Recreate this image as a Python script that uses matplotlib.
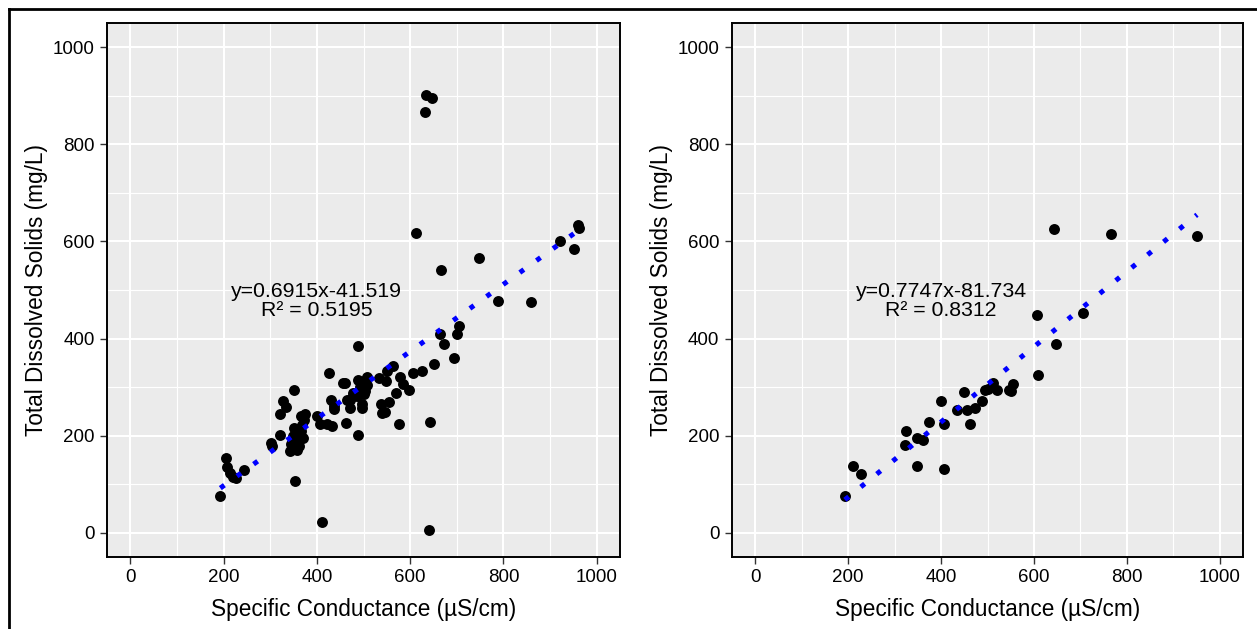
import numpy as np
import matplotlib
matplotlib.use("Agg")
import matplotlib.pyplot as plt
from matplotlib.lines import Line2D

plt.rcParams["font.family"] = ["Liberation Sans", "DejaVu Sans"]

# left panel: all samples
left_sc = [193, 206, 208, 214, 221, 226, 244, 302, 303, 320, 320, 328, 333, 352, 350,
           343, 354, 410, 401, 407, 421, 432, 427, 460, 462, 488, 430, 437, 437, 471,
           470, 478, 496, 489, 493, 500, 501, 496, 507, 534, 548, 551, 564, 555, 537,
           546, 570, 578, 584, 598, 577, 607, 626, 651, 664, 673, 694, 701, 704, 642,
           641, 612, 632, 634, 647, 666, 748, 789, 860, 921, 951, 961, 963,
           347, 352, 356, 360, 365, 368, 372, 375, 362, 348, 370, 345, 358, 366,
           489, 507, 485, 503, 478, 464, 457, 539]
left_tds = [75, 154, 135, 123, 115, 113, 130, 185, 179, 202, 245, 271, 260, 295, 216,
            168, 107, 23, 240, 223, 225, 219, 330, 309, 226, 202, 274, 254, 262, 256,
            273, 281, 257, 384, 300, 312, 285, 265, 321, 319, 312, 333, 344, 269, 265,
            248, 288, 321, 307, 295, 224, 330, 334, 348, 410, 388, 360, 410, 425, 229,
            5, 618, 867, 902, 895, 542, 566, 478, 475, 601, 585, 633, 628,
            175, 185, 192, 200, 210, 222, 232, 245, 178, 200, 195, 182, 170, 240,
            315, 305, 281, 291, 288, 274, 309, 247]
left_slope, left_icpt, left_r2 = 0.6915, -41.519, 0.5195

# right panel: subset
right_sc = [193, 210, 227, 324, 323, 348, 349, 361, 373, 399, 406, 406, 435, 455, 449,
            463, 474, 488, 494, 500, 512, 521, 546, 551, 555, 606, 609, 644, 647, 706,
            766, 951]
right_tds = [75, 137, 120, 209, 181, 138, 195, 192, 229, 272, 223, 132, 252, 252, 290,
             224, 256, 271, 293, 296, 309, 295, 295, 291, 306, 449, 324, 625, 389, 453,
             616, 612]
right_slope, right_icpt, right_r2 = 0.7747, -81.734, 0.8312

ticks = [0, 200, 400, 600, 800, 1000]
minor = [100, 300, 500, 700, 900]

W, H = 1257, 629
fig = plt.figure(figsize=(W / 100, H / 100), dpi=100)


def panel(rect, sc, tds, slope, icpt, r2):
    ax = fig.add_axes([rect[0] / W, 1 - rect[3] / H, (rect[2] - rect[0]) / W,
                       (rect[3] - rect[1]) / H])
    ax.set_facecolor("#EBEBEB")
    ax.set_xlim(-50, 1050)
    ax.set_ylim(-50, 1050)
    ax.set_xticks(ticks)
    ax.set_yticks(ticks)
    ax.set_xticks(minor, minor=True)
    ax.set_yticks(minor, minor=True)
    ax.grid(True, which="major", color="white", lw=1.5)
    ax.grid(True, which="minor", color="white", lw=0.8)
    ax.tick_params(which="minor", length=0)
    ax.tick_params(which="major", length=5, width=1, color="#333333",
                   labelsize=13.5, pad=4, labelcolor="black")
    ax.set_axisbelow(True)
    for s in ax.spines.values():
        s.set_color("black")
        s.set_linewidth(1.4)

    ax.scatter(sc, tds, s=62, color="black", zorder=3, linewidths=0)
    xs = np.array([min(sc), max(sc)])
    ax.plot(xs, slope * xs + icpt, color="blue", lw=3.6,
            linestyle=(0, (1, 3.1)), zorder=4)
    ax.text(400, 497, f"y={slope}x{icpt}", ha="center", va="center",
            fontsize=15.3, zorder=5)
    ax.text(400, 458, f"R² = {r2}", ha="center", va="center",
            fontsize=15.3, zorder=5)
    ax.set_xlabel("Specific Conductance (µS/cm)", fontsize=16.3, labelpad=8)
    ax.set_ylabel("Total Dissolved Solids (mg/L)", fontsize=16.3, labelpad=3)
    return ax


panel((107, 23, 620, 557), left_sc, left_tds, left_slope, left_icpt, left_r2)
panel((732, 23, 1243, 557), right_sc, right_tds, right_slope, right_icpt, right_r2)

# outer frame (left + top edges)
fig.add_artist(Line2D([8.5 / W, 8.5 / W], [0, 1 - 9 / H], color="black", lw=2,
                      transform=fig.transFigure))
fig.add_artist(Line2D([8.5 / W, 1], [1 - 9 / H, 1 - 9 / H], color="black", lw=2,
                      transform=fig.transFigure))

fig.savefig("out.png", dpi=100)
